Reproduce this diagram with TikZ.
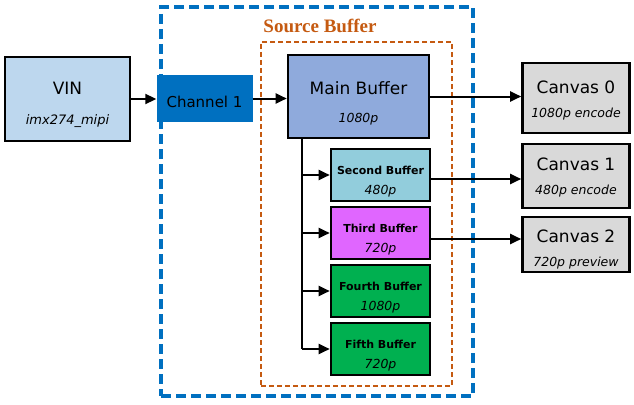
\documentclass[tikz,border=0pt]{standalone}
\usepackage{fontspec}
\setmainfont{DejaVu Sans}
\newfontfamily\titleserif{Liberation Serif}
\usepackage{xcolor}
\usetikzlibrary{arrows.meta}
\usetikzlibrary{positioning}
\definecolor{chipblue}{HTML}{0070C0}
\definecolor{srcorange}{HTML}{C55A11}
\definecolor{vinfill}{HTML}{BDD7EE}
\definecolor{mainfill}{HTML}{8FAADC}
\definecolor{secondfill}{HTML}{92CDDC}
\definecolor{thirdfill}{HTML}{E066FF}
\definecolor{greenfill}{HTML}{00B050}
\definecolor{canvasfill}{HTML}{D9D9D9}

\begin{document}
\begin{tikzpicture}[x=1pt, y=-1pt, >={Triangle[length=11pt, width=10pt]},
  box/.style={draw, shape=rectangle, line width=2.6pt, align=center, inner sep=0pt},
  bigtext/.style={font=\fontsize{17}{24}\selectfont},
  buftext/.style={font=\fontsize{11}{20}\selectfont, text height=41pt},
  link/.style={->, line width=2pt}]
\useasboundingbox (0,0) rectangle (634,404);
% frames
\node[draw=chipblue, shape=rectangle, line width=4pt, dash pattern=on 10pt off 5pt, minimum width=312pt, minimum height=389pt] (chip) at (317,201.5) {};
\node[draw=srcorange, shape=rectangle, line width=1.8pt, dash pattern=on 5pt off 3pt, minimum width=191pt, minimum height=344pt] (src) at (356.5,214) {};
\node[text=srcorange, font=\titleserif\bfseries\fontsize{19}{19}\selectfont] (srctitle) at (320,26) {Source Buffer};
% input side
\node[box, fill=vinfill, minimum width=125pt, minimum height=84pt, text height=54pt, font=\fontsize{17}{29.5}\selectfont] (vin) at (67.5,99) {VIN\\{\itshape\fontsize{13}{15}\selectfont imx274\_mipi}};
\node[shape=rectangle, fill=chipblue, minimum width=96pt, minimum height=47pt, inner sep=0pt, text height=18pt, font=\fontsize{15}{18}\selectfont] (ch) at (204.5,98.5) {Channel 1};
\node[box, fill=mainfill, minimum width=141pt, minimum height=83pt, text height=55pt, font=\fontsize{17}{28}\selectfont] (main) at (358.5,96.5) {Main Buffer\\{\itshape\fontsize{12.5}{15}\selectfont 1080p}};
% buffer stack
\node[box, buftext, fill=secondfill, minimum width=99pt, minimum height=52pt] (second) at (380.5,175) {{\bfseries Second Buffer}\\{\itshape\fontsize{12.5}{15}\selectfont 480p}};
\node[box, buftext, fill=thirdfill, minimum width=99pt, minimum height=52pt, below of=second, node distance=58pt] (third) {{\bfseries Third Buffer}\\{\itshape\fontsize{12.5}{15}\selectfont 720p}};
\node[box, buftext, fill=greenfill, minimum width=99pt, minimum height=52pt, below of=third, node distance=58pt] (fourth) {{\bfseries Fourth Buffer}\\{\itshape\fontsize{12.5}{15}\selectfont 1080p}};
\node[box, buftext, fill=greenfill, minimum width=99pt, minimum height=52pt, below of=fourth, node distance=58pt] (fifth) {{\bfseries Fifth Buffer}\\{\itshape\fontsize{12.5}{15}\selectfont 720p}};
% canvases
\node[box, bigtext, fill=canvasfill, minimum width=107pt, minimum height=70pt, text height=41pt] (canvas0) at (576,98) {Canvas 0\\{\itshape\fontsize{12.5}{15}\selectfont 1080p encode}};
\node[box, bigtext, fill=canvasfill, minimum width=107pt, minimum height=64pt, text height=39pt, below of=canvas0, node distance=78pt] (canvas1) {Canvas 1\\{\itshape\fontsize{12.5}{15}\selectfont 480p encode}};
\node[box, bigtext, fill=canvasfill, minimum width=107pt, minimum height=55pt, text height=47pt, below of=canvas1, node distance=68.5pt] (canvas2) {Canvas 2\\{\itshape\fontsize{12.5}{15}\selectfont 720p preview}};
% connectors
\draw[link] (vin.east) -- (vin.east -| ch.west);
\draw[link] (ch.east) -- (ch.east -| main.west);
\draw[link] (main.east) -- (main.east -| canvas0.west);
\coordinate (trunk) at ([xshift=15pt] main.south west);
\draw[line width=2pt] (trunk) -- (trunk |- fifth.west);
\draw[link] (trunk |- second.west) -- (second.west);
\draw[link] (trunk |- third.west) -- (third.west);
\draw[link] (trunk |- fourth.west) -- (fourth.west);
\draw[link] (trunk |- fifth.west) -- (fifth.west);
\draw[link] ([yshift=-4pt] second.east) -- ([yshift=-4pt] second.east -| canvas1.west);
\draw[link] ([yshift=-6pt] third.east) -- ([yshift=-6pt] third.east -| canvas2.west);
\end{tikzpicture}
\end{document}
